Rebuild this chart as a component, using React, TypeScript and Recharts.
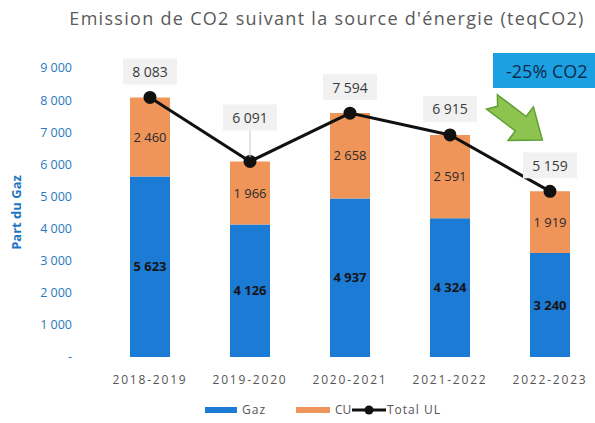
import { Bar, ComposedChart, LabelList, Line, XAxis, YAxis } from "recharts";

const years = ["2018-2019", "2019-2020", "2020-2021", "2021-2022", "2022-2023"];
const gaz = [5623, 4126, 4937, 4324, 3240];
const cu = [2460, 1966, 2658, 2591, 1919];
const totalUL = [8083, 6091, 7594, 6915, 5159];
const yTicks = [0, 1000, 2000, 3000, 4000, 5000, 6000, 7000, 8000, 9000];

const data = years.map((year, i) => ({ year, gaz: gaz[i], cu: cu[i], total: totalUL[i] }));

const GAZ_COLOR = "#1c7cd5";
const CU_COLOR = "#f0955a";
const FONT = "'Open Sans', sans-serif";

// non-breaking space as thousands separator so labels stay on one line
const fmt = (n: number) => (n === 0 ? "-" : String(n).replace(/\B(?=(\d{3})+(?!\d))/g, "\u00a0"));

function TotalLabel(props: any) {
  const { x, y, value, index } = props;
  const lift = index === 1 ? 44 : 26;
  const cy = y - lift;
  return (
    <g>
      {index === 1 && <line x1={x} y1={cy + 13} x2={x} y2={y - 4} stroke="#c8c8c8" strokeWidth={1} />}
      <rect x={x - 27} y={cy - 13} width={54} height={26} fill="#f1f1f1" />
      <text x={x} y={cy} textAnchor="middle" dominantBaseline="central" fontSize={14} fill="#3a3a3a" fontFamily={FONT}>
        {fmt(value)}
      </text>
    </g>
  );
}

export default function App() {
  return (
    <div style={{ position: "absolute", left: 0, top: 0, width: 595, height: 423, overflow: "hidden", background: "#fff", fontFamily: FONT }}>
      <div style={{ position: "absolute", top: 6, left: 0, width: 654, textAlign: "center", fontSize: 18, color: "#5a5a5a", letterSpacing: 1.3 }}>
        Emission de CO2 suivant la source d'énergie (teqCO2)
      </div>
      <ComposedChart width={605} height={423} data={data} margin={{ top: 68, right: 5, bottom: 36, left: 10 }}>
        <XAxis
          dataKey="year"
          axisLine={false}
          tickLine={false}
          tickMargin={12}
          height={30}
          tick={{ fontSize: 12, fill: "#555", fontFamily: FONT, letterSpacing: 1.8 }}
        />
        <YAxis
          domain={[0, 9000]}
          ticks={yTicks}
          tickFormatter={fmt}
          axisLine={false}
          tickLine={false}
          width={90}
          tickMargin={22}
          tick={{ fontSize: 12.5, fill: "#2a78c2", fontFamily: FONT }}
          label={{
            value: "Part du Gaz",
            angle: -90,
            position: "insideLeft",
            offset: 6,
            style: { fontSize: 13, fontWeight: 700, fill: "#1f74c4", fontFamily: FONT, textAnchor: "middle" },
          }}
        />
        <Bar dataKey="gaz" stackId="a" fill={GAZ_COLOR} barSize={40} isAnimationActive={false}>
          <LabelList dataKey="gaz" position="center" formatter={(v: any) => fmt(Number(v))} style={{ fontSize: 13, fontWeight: 700, fill: "#151515", fontFamily: FONT }} />
        </Bar>
        <Bar dataKey="cu" stackId="a" fill={CU_COLOR} barSize={40} isAnimationActive={false}>
          <LabelList dataKey="cu" position="center" formatter={(v: any) => fmt(Number(v))} style={{ fontSize: 13, fill: "#2a2a2a", fontFamily: FONT }} />
        </Bar>
        <Line
          dataKey="total"
          stroke="#111"
          strokeWidth={3}
          dot={{ r: 5, fill: "#111", stroke: "#111" }}
          isAnimationActive={false}
        >
          <LabelList dataKey="total" content={TotalLabel} />
        </Line>
      </ComposedChart>
      <svg width={595} height={423} style={{ position: "absolute", left: 0, top: 0, pointerEvents: "none" }}>
        <rect x={493} y={53} width={110} height={35} fill="#1ba0e2" />
        <text x={506} y={78} fontSize={18} fill="#0e2a4c" fontFamily={FONT}>
          -25% CO2
        </text>
        <polygon
          points="0,-9 36,-9 36,-21 63,0 36,21 36,9 0,9 7,0"
          transform="translate(492 102) rotate(37)"
          fill="#8dc450"
          stroke="#5e9e32"
          strokeWidth={1.5}
        />
        <g fontFamily={FONT} fontSize={12} fill="#555">
          <rect x={205} y={407} width={32} height={6} fill={GAZ_COLOR} />
          <text x={242} y={414} letterSpacing={1}>Gaz</text>
          <rect x={296} y={407} width={34} height={6} fill={CU_COLOR} />
          <text x={335} y={414}>CU</text>
          <line x1={352} y1={410} x2={386} y2={410} stroke="#111" strokeWidth={3} />
          <circle cx={369} cy={410} r={4.5} fill="#111" />
          <text x={387} y={414} letterSpacing={1}>Total UL</text>
        </g>
      </svg>
    </div>
  );
}
